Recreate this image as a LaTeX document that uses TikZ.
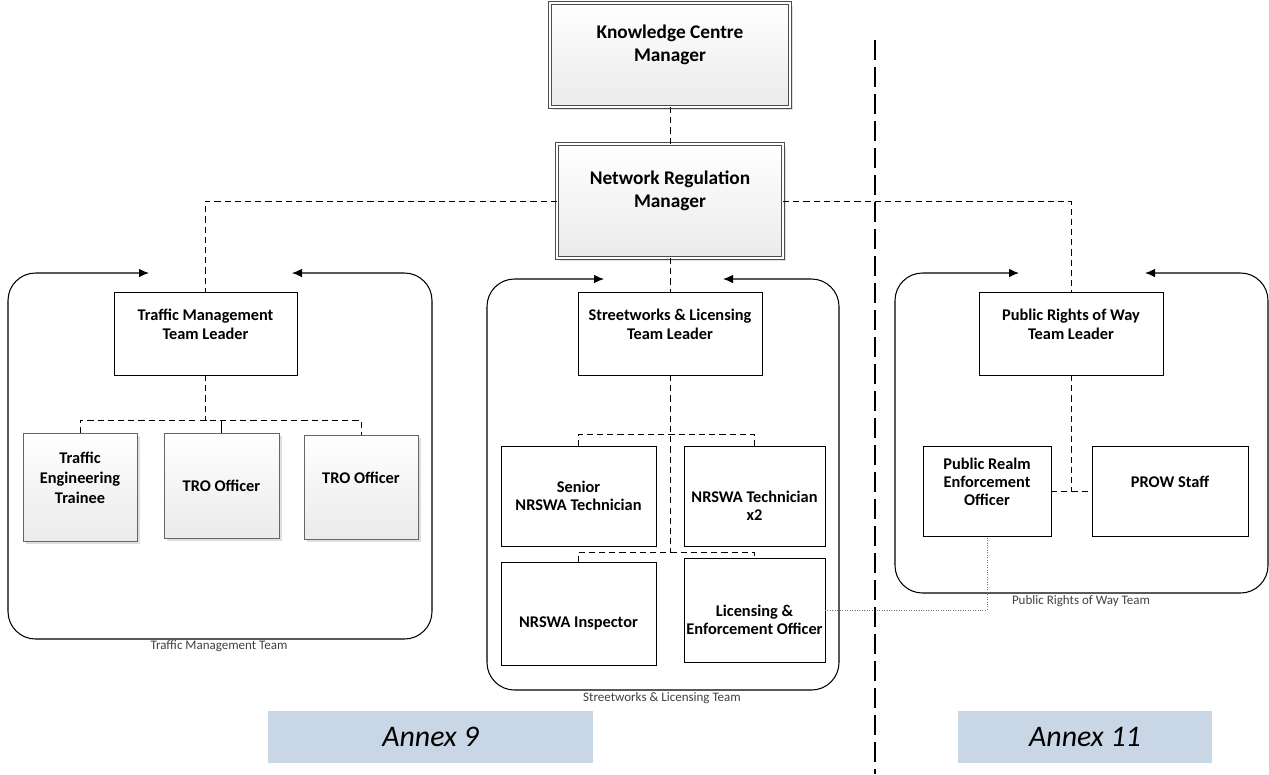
\documentclass[tikz,border=0pt]{standalone}
\usepackage{fontspec}
\setmainfont{Carlito}
\usetikzlibrary{arrows.meta}
\usetikzlibrary{shadows}

\definecolor{annexblue}{RGB}{201,214,230}

\begin{document}
\begin{tikzpicture}[x=0.2mm,y=-0.2mm]
    \tikzset{
      boxsize/.style 2 args={minimum width=#1, minimum height=#2},
      role/.style={
        rectangle,
        draw,
        fill=white,
        align=center,
        inner sep=1pt,
        outer sep=0pt,
        line width=0.5pt,
        font=\fontsize{9.3}{10.4}\selectfont\bfseries
      },
      shadedrole/.style={
        role,
        draw=black!60,
        top color=white,
        bottom color=black!8,
        drop shadow={shadow xshift=1.5pt, shadow yshift=-1.5pt, opacity=0.25}
      },
      manager/.style={
        shadedrole,
        draw=black!70,
        double=white,
        double distance=1.2pt,
        font=\fontsize{11}{12.6}\selectfont\bfseries
      },
      link/.style={dash pattern=on 3.5pt off 2.3pt, line width=0.5pt},
      team/.style={
        line width=0.6pt,
        rounded corners=5.5mm,
        {Latex[length=2mm,width=1.7mm]}-{Latex[length=2mm,width=1.7mm]}
      },
      teamname/.style={font=\fontsize{7.4}{9}\selectfont, text=black!75},
      annex/.style={
        fill=annexblue,
        minimum height=10.4mm,
        font=\fontsize{17}{20}\selectfont\itshape
      }
    }
    \useasboundingbox (0,0) rectangle (1269,774);

    %Managers
    \node[manager,boxsize={48mm}{20.8mm}] at (670,55) (kcm) {Knowledge Centre\\Manager\\[-3pt]\strut};
    \node[manager,boxsize={45.2mm}{22.8mm}] at (670,201) (nrm) {Network Regulation\\Manager\\[-3pt]\strut};

    %Team frames
    \draw[team] (149,273) -- (8,273) -- (8,639) -- (432,639) -- (432,273) -- (292,273);
    \draw[team] (604,279) -- (487,279) -- (487,690) -- (839,690) -- (839,279) -- (723,279);
    \draw[team] (1019,273) -- (895,273) -- (895,593) -- (1268,593) -- (1268,273) -- (1145,273);
    \node[teamname] at (219,646) (tmteam) {Traffic Management Team};
    \node[teamname] at (662,698) (slteam) {Streetworks \& Licensing Team};
    \node[teamname] at (1081,601) (prowteam) {Public Rights of Way Team};

    %Team leaders
    \node[role,boxsize={36.6mm}{16.6mm}] at (205.5,333.5) (tmtl) {Traffic Management\\Team Leader\\[-3pt]\strut};
    \node[role,boxsize={36.8mm}{16.6mm}] at (670,333.5) (sltl) {Streetworks \& Licensing\\Team Leader\\[-3pt]\strut};
    \node[role,boxsize={36.8mm}{16.6mm}] at (1071,333.5) (prowtl) {Public Rights of Way\\Team Leader\\[-3pt]\strut};

    %Traffic Management staff
    \node[shadedrole,boxsize={22.8mm}{21.6mm}] at (80,487) (tet) {Traffic\\[1pt]Engineering\\[1pt]Trainee\\[-3pt]\strut};
    \node[shadedrole,boxsize={23mm}{21mm}] at (221.5,485.5) (troa) {TRO Officer};
    \node[shadedrole,boxsize={22.8mm}{20.8mm}] at (361,487) (trob) {TRO Officer\\[-3pt]\strut};

    %Streetworks staff
    \node[role,boxsize={31mm}{20mm}] at (578.5,496) (senior) {Senior\\NRSWA Technician};
    \node[role,boxsize={28.2mm}{20mm}] at (754.5,496) (techs) {\strut\\NRSWA Technician\\x2};
    \node[role,boxsize={31mm}{20.6mm}] at (578.5,613.5) (insp) {\strut\\NRSWA Inspector};
    \node[role,boxsize={28.2mm}{20.8mm}] at (754.5,610) (lic) {\strut\\Licensing \&\\Enforcement Officer};

    %Public Rights of Way staff
    \node[role,boxsize={25.6mm}{18mm}] at (987,491) (pre) {Public Realm\\Enforcement\\Officer\\[-3pt]\strut};
    \node[role,boxsize={31.2mm}{18mm}] at (1170,491) (staff) {PROW Staff\\[-3pt]\strut};

    %Annex labels
    \node[annex,minimum width=65mm] at (430.5,737) (annexnine) {Annex 9};
    \node[annex,minimum width=50.8mm] at (1085,737) (annexeleven) {Annex 11};

    %Joints
    \coordinate (tmbar) at (205.5,420);
    \coordinate (slbara) at (670,434);
    \coordinate (slbarb) at (670,552);
    \coordinate (prowbar) at (1071,491);
    \coordinate (septop) at (875,40);
    \coordinate (sepbot) at (875,774);

    %Reporting lines
    \draw[link] (kcm) -- (nrm);
    \draw[link] (nrm.west) -| (tmtl.north);
    \draw[link] (nrm.east) -| (prowtl.north);
    \draw[link] (nrm) -- (sltl);

    \draw[link,line width=1pt] (tmtl) -- (tmbar);
    \draw[link] (tet.north) |- (tmbar) -| (trob.north);
    \draw (troa.north) -- (troa.north |- tmbar);

    \draw[link] (sltl) -- (slbarb);
    \draw[link] (senior.north) |- (slbara) -| (techs.north);
    \draw[link] (insp.north) |- (slbarb) -| (lic.north);

    \draw[link] (prowtl) -- (prowbar);
    \draw[link] (pre) -- (staff);

    \draw[densely dotted,black!55] (lic.east) -| (pre.south);

    %Annex divider
    \draw[line width=0.9pt,dash pattern=on 4mm off 1.4mm] (septop) -- (sepbot);
\end{tikzpicture}
\end{document}
